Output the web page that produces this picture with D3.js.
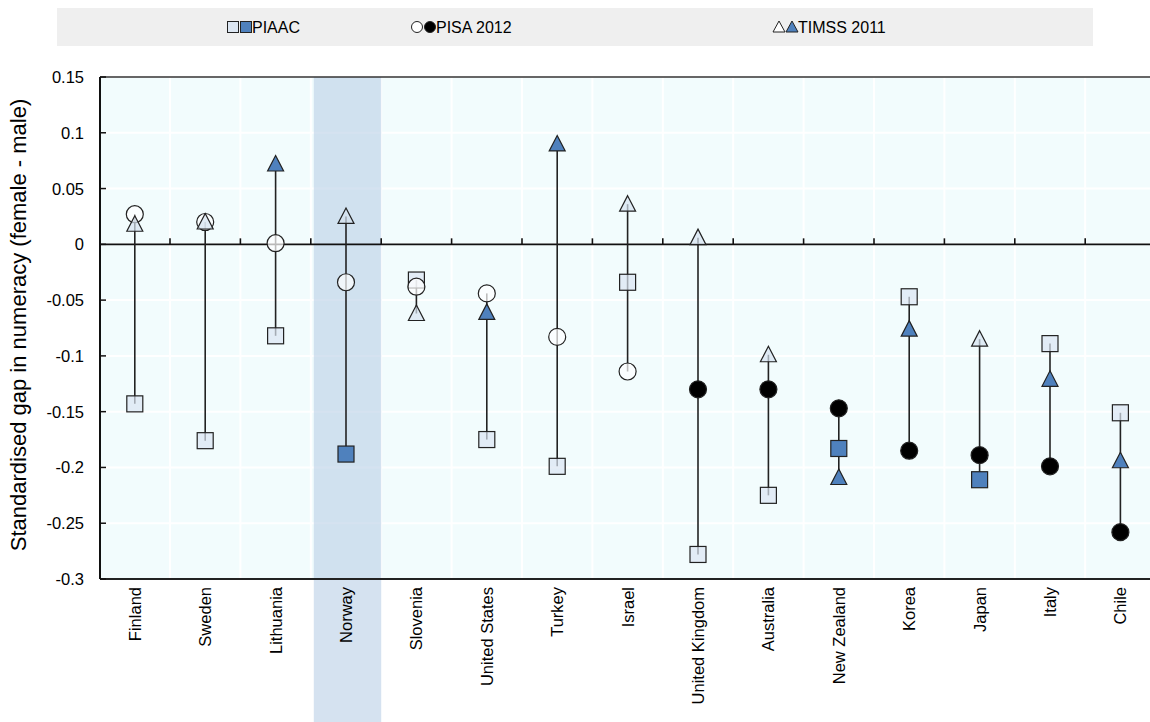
<!DOCTYPE html>
<html>
  <head>
    <meta charset="utf-8" />
    <title>Gender gap in numeracy</title>
    <script src="https://d3js.org/d3.v7.min.js"></script>
    <style>
      body { margin: 0; background: white; }
      text { font-family: "Liberation Sans", Arial, sans-serif; fill: #000; }
    </style>
  </head>
  <body>
    <svg id="viz"></svg>
    <script>

    // countries, left to right
    var countries = ["Finland", "Sweden", "Lithuania", "Norway", "Slovenia", "United States",
      "Turkey", "Israel", "United Kingdom", "Australia", "New Zealand", "Korea", "Japan", "Italy", "Chile"];

    // standardised gaps (female - male)
    var piaac = [-0.143, -0.176, -0.082, -0.188, -0.032, -0.175, -0.199, -0.034, -0.278, -0.225, -0.183, -0.047, -0.211, -0.089, -0.151];
    var pisa  = [0.027, 0.020, 0.001, -0.034, -0.038, -0.044, -0.083, -0.114, -0.130, -0.130, -0.147, -0.185, -0.189, -0.199, -0.258];
    var timss = [0.018, 0.020, 0.072, 0.025, -0.062, -0.061, 0.090, 0.036, 0.006, -0.099, -0.209, -0.076, -0.085, -0.121, -0.194];

    // 1 = filled marker (significant), 0 = hollow
    var piaacSig = [0, 0, 0, 1, 0, 0, 0, 0, 0, 0, 1, 0, 1, 0, 0];
    var pisaSig  = [0, 0, 0, 0, 0, 0, 0, 0, 1, 1, 1, 1, 1, 1, 1];
    var timssSig = [0, 0, 1, 0, 0, 1, 1, 0, 0, 0, 1, 1, 0, 1, 1];

    var yTicks = [0.15, 0.1, 0.05, 0, -0.05, -0.1, -0.15, -0.2, -0.25, -0.3];
    var highlight = "Norway";
    var legendItems = ["PIAAC", "PISA 2012", "TIMSS 2011"];

    var W = 1150, H = 722;
    var pLeft = 100, pTop = 77, pBottom = 579;

    var svg = d3.select("#viz")
      .attr("width", W)
      .attr("height", H);

    var x = d3.scaleBand().domain(countries).range([99.6, 1155.6]).padding(0);
    var y = d3.scaleLinear().domain([-0.3, 0.15]).range([pBottom, pTop]);

    var rows = countries.map(function(c, i) {
      return {
        country: c,
        vals: [
          {type: "sq", v: piaac[i], sig: piaacSig[i]},
          {type: "ci", v: pisa[i], sig: pisaSig[i]},
          {type: "tr", v: timss[i], sig: timssSig[i]}
        ]
      };
    });

    //legend strip
    svg.append("rect")
      .attr("x", 57).attr("y", 8).attr("width", 1036).attr("height", 38)
      .attr("fill", "#efefef");

    //plot background
    svg.append("rect")
      .attr("x", pLeft).attr("y", pTop).attr("width", W - pLeft).attr("height", pBottom - pTop)
      .attr("fill", "#f2fcfd");

    //white grid
    svg.selectAll(".hgrid").data(yTicks).enter().append("line")
      .attr("x1", pLeft).attr("x2", W)
      .attr("y1", function(d) { return y(d); }).attr("y2", function(d) { return y(d); })
      .attr("stroke", "white").attr("stroke-width", 2);
    svg.selectAll(".vgrid").data(countries.slice(1)).enter().append("line")
      .attr("x1", function(d) { return x(d); }).attr("x2", function(d) { return x(d); })
      .attr("y1", pTop).attr("y2", pBottom)
      .attr("stroke", "white").attr("stroke-width", 2);

    //highlight band for Norway (over the grid, under the marks)
    svg.append("rect")
      .attr("x", x(highlight) + 3).attr("y", pTop)
      .attr("width", x.bandwidth() - 3).attr("height", H - pTop)
      .attr("fill", "#b9cfe6").attr("opacity", 0.6);

    //frame
    svg.append("line").attr("x1", pLeft).attr("x2", W).attr("y1", pTop).attr("y2", pTop)
      .attr("stroke", "#333").attr("stroke-width", 1.5);
    svg.append("line").attr("x1", pLeft).attr("x2", W).attr("y1", pBottom).attr("y2", pBottom)
      .attr("stroke", "#222").attr("stroke-width", 2);
    svg.append("line").attr("x1", pLeft).attr("x2", pLeft).attr("y1", pTop).attr("y2", pBottom)
      .attr("stroke", "#111").attr("stroke-width", 2);

    //zero line with ticks at category boundaries
    svg.append("line").attr("x1", pLeft).attr("x2", W).attr("y1", y(0)).attr("y2", y(0))
      .attr("stroke", "#111").attr("stroke-width", 1.6);
    svg.selectAll(".ztick").data(countries.slice(1)).enter().append("line")
      .attr("x1", function(d) { return x(d); }).attr("x2", function(d) { return x(d); })
      .attr("y1", y(0) - 6).attr("y2", y(0))
      .attr("stroke", "#111").attr("stroke-width", 1.6);

    //y axis ticks and labels
    svg.selectAll(".ytick").data(yTicks).enter().append("line")
      .attr("x1", pLeft).attr("x2", pLeft + 6)
      .attr("y1", function(d) { return y(d); }).attr("y2", function(d) { return y(d); })
      .attr("stroke", "#111").attr("stroke-width", 1.5);
    svg.selectAll(".ylab").data(yTicks).enter().append("text")
      .attr("x", 84).attr("y", function(d) { return y(d) + 6; })
      .attr("text-anchor", "end")
      .style("font-size", "16.5px")
      .text(function(d) { return d === 0 ? "0" : String(d); });

    svg.append("text")
      .attr("transform", "translate(26," + ((pTop + pBottom) / 2 - 3) + ") rotate(-90)")
      .attr("text-anchor", "middle")
      .style("font-size", "22px")
      .text("Standardised gap in numeracy (female - male)");

    //country labels
    svg.selectAll(".xlab").data(countries).enter().append("text")
      .attr("transform", function(d) {
        return "translate(" + (x(d) + x.bandwidth() / 2 + 6) + "," + (pBottom + 8) + ") rotate(-90)";
      })
      .attr("text-anchor", "end")
      .style("font-size", "16.5px")
      .text(function(d) { return d; });

    //range lines
    var g = svg.selectAll(".country").data(rows).enter().append("g")
      .attr("transform", function(d) { return "translate(" + (x(d.country) + x.bandwidth() / 2) + ",0)"; });

    g.append("line")
      .attr("y1", function(d) { return y(d3.max(d.vals, function(v) { return v.v; })); })
      .attr("y2", function(d) { return y(d3.min(d.vals, function(v) { return v.v; })); })
      .attr("stroke", "#222").attr("stroke-width", 1.6);

    var triPath = "M0,-8.5L8,7L-8,7Z";

    function drawMarker(sel, type, filled) {
      var shape;
      if (type === "sq") {
        shape = sel.append("rect").attr("x", -8).attr("y", -8).attr("width", 16).attr("height", 16)
          .attr("fill", filled ? "#4f81bd" : "#dce6f2");
      } else if (type === "ci") {
        shape = sel.append("circle").attr("r", 8.5)
          .attr("fill", filled ? "#000" : "#fff");
      } else {
        shape = sel.append("path").attr("d", triPath)
          .attr("fill", filled ? "#4f81bd" : "#d6e2f0");
      }
      shape.attr("stroke", "#222").attr("stroke-width", 1.2)
        .attr("fill-opacity", filled ? 1 : 0.7);
    }

    g.each(function(d) {
      var gg = d3.select(this);
      d.vals.forEach(function(v) {
        var m = gg.append("g").attr("transform", "translate(0," + y(v.v) + ")");
        drawMarker(m, v.type, v.sig === 1);
      });
    });

    //legend
    var legendX = [227, 411, 773];
    var types = ["sq", "ci", "tr"];
    legendItems.forEach(function(name, i) {
      var lg = svg.append("g").attr("transform", "translate(" + legendX[i] + ",27)");
      [0, 1].forEach(function(k) {
        var m = lg.append("g").attr("transform", "translate(" + (6 + k * 13) + ",0)");
        var t = types[i];
        if (t === "sq") {
          m.append("rect").attr("x", -5.5).attr("y", -5.5).attr("width", 11).attr("height", 11)
            .attr("fill", k ? "#4f81bd" : "#dce6f2");
        } else if (t === "ci") {
          m.append("circle").attr("r", 5.5).attr("fill", k ? "#000" : "#fff");
        } else {
          m.append("path").attr("d", "M0,-6L6,5L-6,5Z").attr("fill", k ? "#4f81bd" : "#fff");
        }
        m.selectAll("*").attr("stroke", "#222").attr("stroke-width", 1);
      });
      lg.append("text").attr("x", 25).attr("y", 6)
        .style("font-size", "16px")
        .text(name);
    });

    </script>
  </body>
</html>
